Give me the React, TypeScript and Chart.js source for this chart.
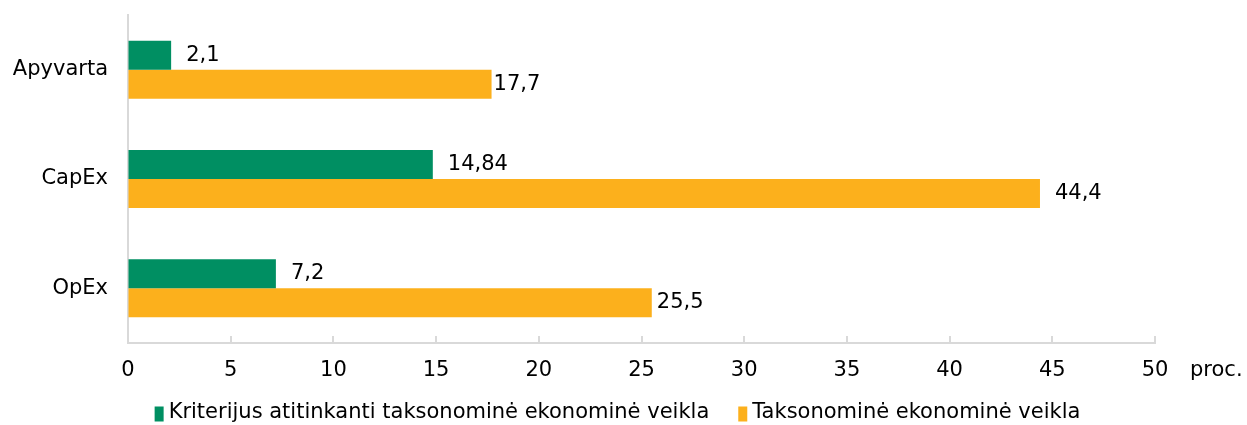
import React, { useEffect, useRef } from "react";
import { Chart, registerables } from "chart.js";

Chart.register(...registerables);

const categories = ["Apyvarta", "CapEx", "OpEx"];
const seriesNames = ["Kriterijus atitinkanti taksonominė ekonominė veikla", "Taksonominė ekonominė veikla"];
const alignedValues = [2.1, 14.84, 7.2];
const eligibleValues = [17.7, 44.4, 25.5];
const alignedLabels = ["2,1", "14,84", "7,2"];
const eligibleLabels = ["17,7", "44,4", "25,5"];
const xMin = 0;
const xMax = 50;
const xStep = 5;
const unitLabel = "proc.";

const FONT = "'DejaVu Sans', Verdana, sans-serif";
const FS = 21;
const GREEN = "#008F62";
const ORANGE = "#FCB01C";
const AXIS = "#D9D9D9";

const labelOffsets = [
  [15, 15, 15],
  [2, 15, 5],
];

export default function App() {
  const ref = useRef<HTMLCanvasElement | null>(null);
  useEffect(() => {
    document.body.style.margin = "0";
    const canvas = ref.current!;
    const labelsPlugin = {
      id: "valueLabels",
      afterDatasetsDraw(chart: any) {
        const ctx = chart.ctx;
        ctx.save();
        ctx.font = `${FS}px ${FONT}`;
        ctx.fillStyle = "#000";
        ctx.textAlign = "left";
        ctx.textBaseline = "middle";
        const all = [alignedLabels, eligibleLabels];
        chart.data.datasets.forEach((_: any, di: number) => {
          const meta = chart.getDatasetMeta(di);
          meta.data.forEach((bar: any, i: number) => {
            ctx.fillText(all[di][i], bar.x + labelOffsets[di][i], bar.y);
          });
        });
        ctx.restore();
      },
    };
    const axisPlugin = {
      id: "axisExtras",
      afterDraw(chart: any) {
        const ctx = chart.ctx;
        const xs = chart.scales.x;
        const area = chart.chartArea;
        ctx.save();
        ctx.strokeStyle = AXIS;
        ctx.lineWidth = 2;
        xs.ticks.forEach((t: any) => {
          const px = Math.round(xs.getPixelForValue(t.value));
          ctx.beginPath();
          ctx.moveTo(px, area.bottom - 7);
          ctx.lineTo(px, area.bottom);
          ctx.stroke();
        });
        ctx.font = `${FS}px ${FONT}`;
        ctx.fillStyle = "#000";
        ctx.textAlign = "left";
        ctx.textBaseline = "middle";
        ctx.fillText(unitLabel, xs.getPixelForValue(xMax) + 35, area.bottom + 28);

        // legend
        const colors = [GREEN, ORANGE];
        const boxW = 9;
        const boxH = 15;
        const gapText = 5;
        const gapItem = 29;
        const widths = seriesNames.map((n) => ctx.measureText(n).width);
        const total = widths.reduce((a, w) => a + boxW + gapText + w, 0) + gapItem * (seriesNames.length - 1);
        let x = chart.width / 2 - 6 - total / 2;
        const cy = 413;
        seriesNames.forEach((n, i) => {
          ctx.fillStyle = colors[i];
          ctx.fillRect(x, cy - boxH / 2 + 1, boxW, boxH);
          x += boxW + gapText;
          ctx.fillStyle = "#000";
          ctx.fillText(n, x, cy);
          x += widths[i] + gapItem;
        });
        ctx.restore();
      },
    };
    const chart = new Chart(canvas, {
      type: "bar",
      data: {
        labels: categories,
        datasets: [
          { label: seriesNames[0], data: alignedValues, backgroundColor: GREEN },
          { label: seriesNames[1], data: eligibleValues, backgroundColor: ORANGE },
        ],
      },
      options: {
        indexAxis: "y",
        animation: false,
        responsive: false,
        maintainAspectRatio: false,
        datasets: { bar: { categoryPercentage: 0.53, barPercentage: 1 } },
        layout: { padding: { top: 15, right: 92, left: 0, bottom: 32 } },
        scales: {
          x: {
            min: xMin,
            max: xMax,
            ticks: {
              stepSize: xStep,
              color: "#000",
              font: { family: FONT, size: FS },
              padding: 15,
              maxRotation: 0,
              callback: (v: any) => String(v),
            },
            grid: { display: true, drawOnChartArea: false, drawTicks: false, color: AXIS },
            border: { display: true, color: AXIS, width: 2 },
            afterFit: (s: any) => { s.height = 50; s.paddingLeft = 0; s.paddingRight = 0; },
          },
          y: {
            ticks: { color: "#000", font: { family: FONT, size: FS }, padding: 20 },
            grid: { display: false, drawTicks: false },
            border: { display: true, color: AXIS, width: 2 },
            afterFit: (s: any) => { s.width = 128; s.paddingTop = 0; s.paddingBottom = 0; },
          },
        },
        plugins: {
          legend: { display: false },
          tooltip: { enabled: false },
        },
      },
      plugins: [labelsPlugin, axisPlugin],
    });
    return () => chart.destroy();
  }, []);
  return (
    <div style={{ width: 1247, height: 425, background: "#fff" }}>
      <canvas ref={ref} width={1247} height={425} style={{ display: "block" }} />
    </div>
  );
}
